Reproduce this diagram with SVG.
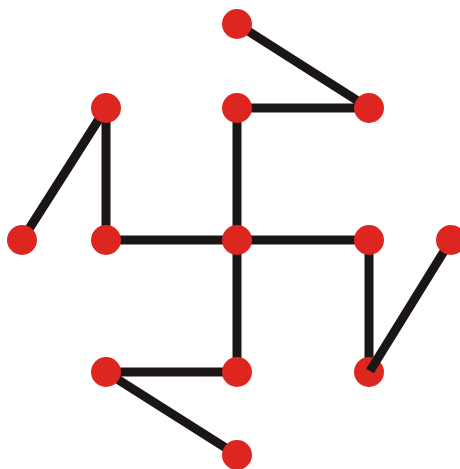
<svg xmlns="http://www.w3.org/2000/svg" width="460" height="469" viewBox="0 0 460 469">
<style>
.e{stroke:#1a1616;stroke-width:9;stroke-linecap:butt;fill:none}
.n{fill:#de2621}
</style>
<rect width="460" height="469" fill="#fff"/>
<g id="connectors">
<line class="e" x1="237" y1="24" x2="369" y2="108"/>
<line class="e" x1="237" y1="108" x2="369" y2="108"/>
<line class="e" x1="237" y1="108" x2="237" y2="240"/>
<line class="e" x1="106" y1="108" x2="22" y2="240"/>
<line class="e" x1="106" y1="108" x2="106" y2="240"/>
<line class="e" x1="106" y1="240" x2="237" y2="240"/>
<line class="e" x1="237" y1="240" x2="369" y2="240"/>
<line class="e" x1="237" y1="240" x2="237" y2="372"/>
<line class="e" x1="369" y1="240" x2="369" y2="372"/>
<line class="e" x1="106" y1="372" x2="237" y2="372"/>
<line class="e" x1="106" y1="372" x2="237" y2="455"/>
</g>
<g id="nA"><circle class="n" cx="237" cy="24" r="15"/></g>
<g id="nB"><circle class="n" cx="369" cy="108" r="15"/></g>
<g id="nC"><circle class="n" cx="237" cy="108" r="15"/></g>
<g id="nD"><circle class="n" cx="106" cy="108" r="15"/></g>
<g id="nE"><circle class="n" cx="22" cy="240" r="15"/></g>
<g id="nF"><circle class="n" cx="106" cy="240" r="15"/></g>
<g id="nG"><circle class="n" cx="237" cy="240" r="15"/></g>
<g id="nH"><circle class="n" cx="369" cy="240" r="15"/></g>
<g id="nJ"><circle class="n" cx="369" cy="372" r="15"/></g>
<g id="nK"><circle class="n" cx="106" cy="372" r="15"/></g>
<g id="nL"><circle class="n" cx="237" cy="372" r="15"/></g>
<g id="nM"><circle class="n" cx="237" cy="455" r="15"/></g>
<g id="connectors-top">
<line class="e" x1="451" y1="240" x2="370" y2="371"/>
</g>
<g id="nI"><circle class="n" cx="451" cy="240" r="15"/></g>
</svg>
